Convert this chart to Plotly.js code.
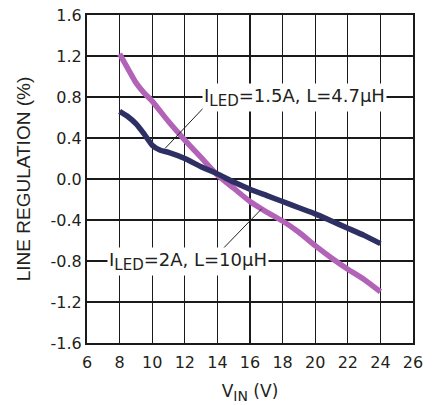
<!DOCTYPE html>
<html>
<head>
<meta charset="utf-8">
<script src="https://cdn.plot.ly/plotly-3.0.1.min.js"></script>
<style>html,body{margin:0;padding:0;background:#fff;}#chart{width:437px;height:405px;}</style>
</head>
<body>
<div id="chart"></div>
<script>
// Series: ILED = 2A, L = 10µH
const vin2A = [8, 8.5, 9, 9.5, 10, 11, 12, 13, 14, 15, 16, 17, 18, 19, 20, 21, 22, 23, 24];
const reg2A = [1.22, 1.08, 0.94, 0.84, 0.76, 0.56, 0.38, 0.21, 0.04, -0.09, -0.22, -0.32, -0.41, -0.52, -0.65, -0.77, -0.88, -0.98, -1.10];
// Series: ILED = 1.5A, L = 4.7µH
const vin15A = [8, 8.5, 9, 9.5, 10, 10.5, 11, 12, 13, 14, 15, 16, 17, 18, 19, 20, 21, 22, 23, 24];
const reg15A = [0.66, 0.61, 0.54, 0.44, 0.33, 0.28, 0.26, 0.20, 0.12, 0.05, -0.03, -0.10, -0.16, -0.22, -0.28, -0.34, -0.41, -0.48, -0.55, -0.63];

const xTicks = [6, 8, 10, 12, 14, 16, 18, 20, 22, 24, 26];
const yTicks = [-1.6, -1.2, -0.8, -0.4, 0.0, 0.4, 0.8, 1.2, 1.6];
const yTickText = ['-1.6', '-1.2', '-0.8', '-0.4', '0.0', '0.4', '0.8', '1.2', '1.6'];

const label15A = 'I<sub><span style="font-size:15px">LED</span></sub>=1.5A, L=4.7µH';
const label2A = 'I<sub><span style="font-size:15px">LED</span></sub>=2A, L=10µH';

const SANS = 'DejaVu Sans, Liberation Sans, Arial, sans-serif';
const ARIAL = 'Liberation Sans, Arial, sans-serif';

const traces = [
  {x: vin2A, y: reg2A, mode: 'lines', line: {color: '#B263B8', width: 5.5, shape: 'spline', smoothing: 0.5}, showlegend: false, hoverinfo: 'skip'},
  {x: vin15A, y: reg15A, mode: 'lines', line: {color: '#2E2F63', width: 5.5, shape: 'spline', smoothing: 0.5}, showlegend: false, hoverinfo: 'skip'}
];

const layout = {
  width: 437, height: 405,
  margin: {l: 87, r: 24, t: 15, b: 62},
  paper_bgcolor: '#fff', plot_bgcolor: '#fff',
  font: {family: SANS, size: 16, color: '#231f20'},
  showlegend: false,
  xaxis: {
    range: [6, 26], tickvals: xTicks, ticktext: xTicks.map(String),
    showgrid: true, gridcolor: '#1a1a1a', gridwidth: 1.2,
    zeroline: false, showline: true, linecolor: '#1a1a1a', linewidth: 2, mirror: true,
    ticks: 'outside', ticklen: 4, tickcolor: 'rgba(0,0,0,0)', tickfont: {size: 16, family: SANS},
    title: {text: 'V<sub><span style="font-size:14px">IN</span></sub> (V)', font: {size: 17, family: SANS}, standoff: 14},
    fixedrange: true
  },
  yaxis: {
    range: [-1.6, 1.6], tickvals: yTicks, ticktext: yTickText,
    showgrid: true, gridcolor: '#1a1a1a', gridwidth: 1.2,
    zeroline: false, showline: true, linecolor: '#1a1a1a', linewidth: 2, mirror: true,
    ticks: '', ticklen: 0, tickfont: {size: 16, family: SANS},
    title: {text: 'LINE REGULATION (%)', font: {size: 19, family: ARIAL}, standoff: 15},
    fixedrange: true
  },
  shapes: [
    {type: 'line', xref: 'x', yref: 'y', x0: 10.8, y0: 0.30, x1: 13.3, y1: 0.72, line: {color: '#231f20', width: 1}},
    {type: 'line', xref: 'x', yref: 'y', x0: 14.16, y0: -0.71, x1: 16.72, y1: -0.29, line: {color: '#231f20', width: 1}}
  ],
  annotations: [
    {xref: 'x', yref: 'y', x: 18.76, y: 0.8, text: label15A, showarrow: false, bgcolor: '#fff', borderpad: 1, font: {size: 18, family: SANS, color: '#231f20'}, xanchor: 'center', yanchor: 'middle'},
    {xref: 'x', yref: 'y', x: 12.2, y: -0.8, text: label2A, showarrow: false, bgcolor: '#fff', borderpad: 1, font: {size: 18, family: SANS, color: '#231f20'}, xanchor: 'center', yanchor: 'middle'}
  ]
};

Plotly.newPlot('chart', traces, layout, {displayModeBar: false, staticPlot: true});
</script>
</body>
</html>
